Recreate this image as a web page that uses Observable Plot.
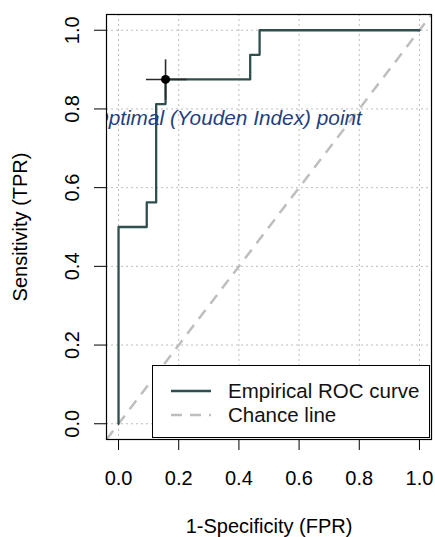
<!DOCTYPE html>
<html>
<head>
<meta charset="utf-8">
<script src="https://cdn.jsdelivr.net/npm/d3@7"></script>
<script src="https://cdn.jsdelivr.net/npm/@observablehq/plot@0.6"></script>
<style>
  html, body { margin: 0; padding: 0; background: #fff; }
  #wrap { position: relative; width: 435px; height: 537px; font-family: "Liberation Sans", Arial, sans-serif; }
  #legend { position: absolute; left: 152px; top: 365px; width: 278px; height: 73px; border: 1px solid #000; background: #fff; box-sizing: border-box; }
  #legend .row { position: absolute; left: 0; height: 24px; display: flex; align-items: center; font-size: 20.5px; color: #111; }
  #legend .row svg { margin-left: 18px; margin-right: 17px; }
</style>
</head>
<body>
<div id="wrap"></div>
<script>
// ROC data (empirical steps)
const fpr = [0, 0, 0.09375, 0.125, 0.15625, 0.4375, 0.46875, 1];
const tpr = [0, 0.5, 0.5625, 0.8125, 0.875, 0.9375, 1, 1];
// Optimal (Youden) point and its intervals
const optFpr = 0.15625;
const optTpr = 0.875;
const fprCI = [0.091, 0.227];
const tprCI = [0.824, 0.926];
const optLabel = "Optimal (Youden Index) point";
const optLabelPos = [0.361, 0.775];
// axes
const axisExtent = [-0.04, 1.04];
const ticks = [0, 0.2, 0.4, 0.6, 0.8, 1.0];
const xTitle = "1-Specificity (FPR)";
const yTitle = "Sensitivity (TPR)";
const legendLabels = ["Empirical ROC curve", "Chance line"];

const curveColor = "#2f4f4f";
const chanceColor = "#bebebe";
const gridColor = "#bdbdbd";

const roc = fpr.map((f, i) => ({fpr: f, tpr: tpr[i]}));

const plot = Plot.plot({
  width: 435,
  height: 537,
  marginLeft: 106,
  marginRight: 4,
  marginTop: 14,
  marginBottom: 98,
  style: {fontFamily: "Liberation Sans, Arial, sans-serif", fontSize: "20px", background: "#fff", color: "#000"},
  x: {domain: axisExtent},
  y: {domain: axisExtent},
  marks: [
    Plot.ruleX(ticks, {stroke: gridColor, strokeWidth: 1, strokeDasharray: "2,3"}),
    Plot.ruleY(ticks, {stroke: gridColor, strokeWidth: 1, strokeDasharray: "2,3"}),
    Plot.link([axisExtent], {x1: d => d[0], y1: d => d[0], x2: d => d[1], y2: d => d[1], stroke: chanceColor, strokeWidth: 2.5, strokeDasharray: "11,8"}),
    Plot.line(roc, {x: "fpr", y: "tpr", curve: "step-after", stroke: curveColor, strokeWidth: 2.3}),
    Plot.link([{a: fprCI[0], b: fprCI[1], y: optTpr}], {x1: "a", x2: "b", y1: "y", y2: "y", stroke: "#2a2a2a", strokeWidth: 1.6}),
    Plot.link([{a: tprCI[0], b: tprCI[1], x: optFpr}], {y1: "a", y2: "b", x1: "x", x2: "x", stroke: "#2a2a2a", strokeWidth: 1.6}),
    Plot.dot([{x: optFpr, y: optTpr}], {x: "x", y: "y", r: 4.5, fill: "#000", stroke: "none"}),
    Plot.text([optLabel], {x: () => optLabelPos[0], y: () => optLabelPos[1], text: d => d, fontStyle: "italic", fontSize: 20.8, fill: "#1f3f80", textAnchor: "middle", clip: "frame"}),
    Plot.axisX(ticks, {tickFormat: d3.format(".1f"), tickSize: 11, tickPadding: 20, fontSize: 20, label: xTitle, labelAnchor: "center", labelArrow: "none", labelOffset: 93}),
    Plot.axisY(ticks, {tickFormat: d3.format(".1f"), tickSize: 12, tickPadding: 16, tickRotate: -90, fontSize: 20, label: yTitle, labelAnchor: "center", labelArrow: "none", labelOffset: 94}),
    Plot.frame({stroke: "#000", strokeWidth: 1.2})
  ]
});

const wrap = document.getElementById("wrap");
wrap.appendChild(plot);

const legend = document.createElement("div");
legend.id = "legend";
const styles = [
  {stroke: curveColor, dash: null, width: 2.3},
  {stroke: chanceColor, dash: "11,8", width: 2.5}
];
legendLabels.forEach((lab, i) => {
  const row = document.createElement("div");
  row.className = "row";
  row.style.top = (12.5 + i * 24) + "px";
  const s = styles[i];
  row.innerHTML = `<svg width="40" height="10"><line x1="0" y1="5" x2="40" y2="5" stroke="${s.stroke}" stroke-width="${s.width}" ${s.dash ? `stroke-dasharray="${s.dash}"` : ""}/></svg><span>${lab}</span>`;
  legend.appendChild(row);
});
wrap.appendChild(legend);
</script>
</body>
</html>
